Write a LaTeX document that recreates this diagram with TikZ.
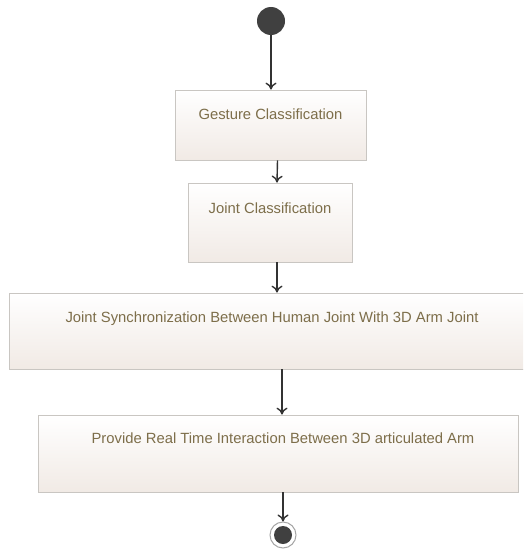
\documentclass[tikz,border=0pt]{standalone}
\usepackage{fontspec}
\setmainfont{Liberation Sans}
\usepackage{tikz}
\usetikzlibrary{arrows.meta}

\definecolor{boxline}{HTML}{C9C6C2}
\definecolor{boxbottom}{HTML}{F1EAE5}
\definecolor{boxtext}{HTML}{7D6E4A}
\definecolor{flowline}{HTML}{333333}
\definecolor{dot}{HTML}{404040}

\tikzset{
  activity/.style={draw=boxline, line width=0.8pt, top color=white, bottom color=boxbottom,
                   inner sep=0pt, text height=9pt, text=boxtext,
                   font=\fontsize{14.8}{16}\selectfont},
  flow/.style={draw=flowline, line width=1.4pt, -{To[length=7pt, width=11pt]}}
}

\begin{document}
\begin{tikzpicture}[x=1pt, y=-1pt]

% fix the page size
\useasboundingbox (0, 0) rectangle (523, 551);
\clip (0, 0) rectangle (523, 551);

% initial and final nodes
\node[circle, fill=dot, minimum size=28pt, inner sep=0pt] (start) at (271, 21) {};
\node[circle, draw=gray!70, line width=1pt, fill=white, minimum size=26pt, inner sep=0pt] (stop) at (283, 535) {};
\fill[dot] (stop.center) circle (9);

% activities
\node[activity, minimum width=191pt, minimum height=70pt, text depth=20pt] (gesture) at (270.5, 125) {Gesture Classification};
\node[activity, minimum width=164pt, minimum height=79pt, text depth=27pt] (joint) at (270, 222.5) {Joint Classification};
\node[activity, minimum width=525pt, minimum height=76pt, text depth=26pt] (sync) at (272, 331) {Joint Synchronization Between Human Joint With 3D Arm Joint};
\node[activity, minimum width=480pt, minimum height=77pt, text depth=29pt] (interact) at (278, 453.5) {\hspace{10pt}Provide Real Time Interaction Between 3D articulated Arm};

% control flow
\draw[flow] (start) -- (gesture.north -| start);
\draw[flow] ([xshift=7pt]gesture.south) -- ([xshift=7pt]joint.north);
\draw[flow] ([xshift=7pt]joint.south) -- ([xshift=7pt]joint.south |- sync.north);
\draw[flow] ([xshift=10pt]sync.south) -- ([xshift=10pt]sync.south |- interact.north);
\draw[flow] ([xshift=5pt]interact.south) -- (stop);

\end{tikzpicture}
\end{document}
